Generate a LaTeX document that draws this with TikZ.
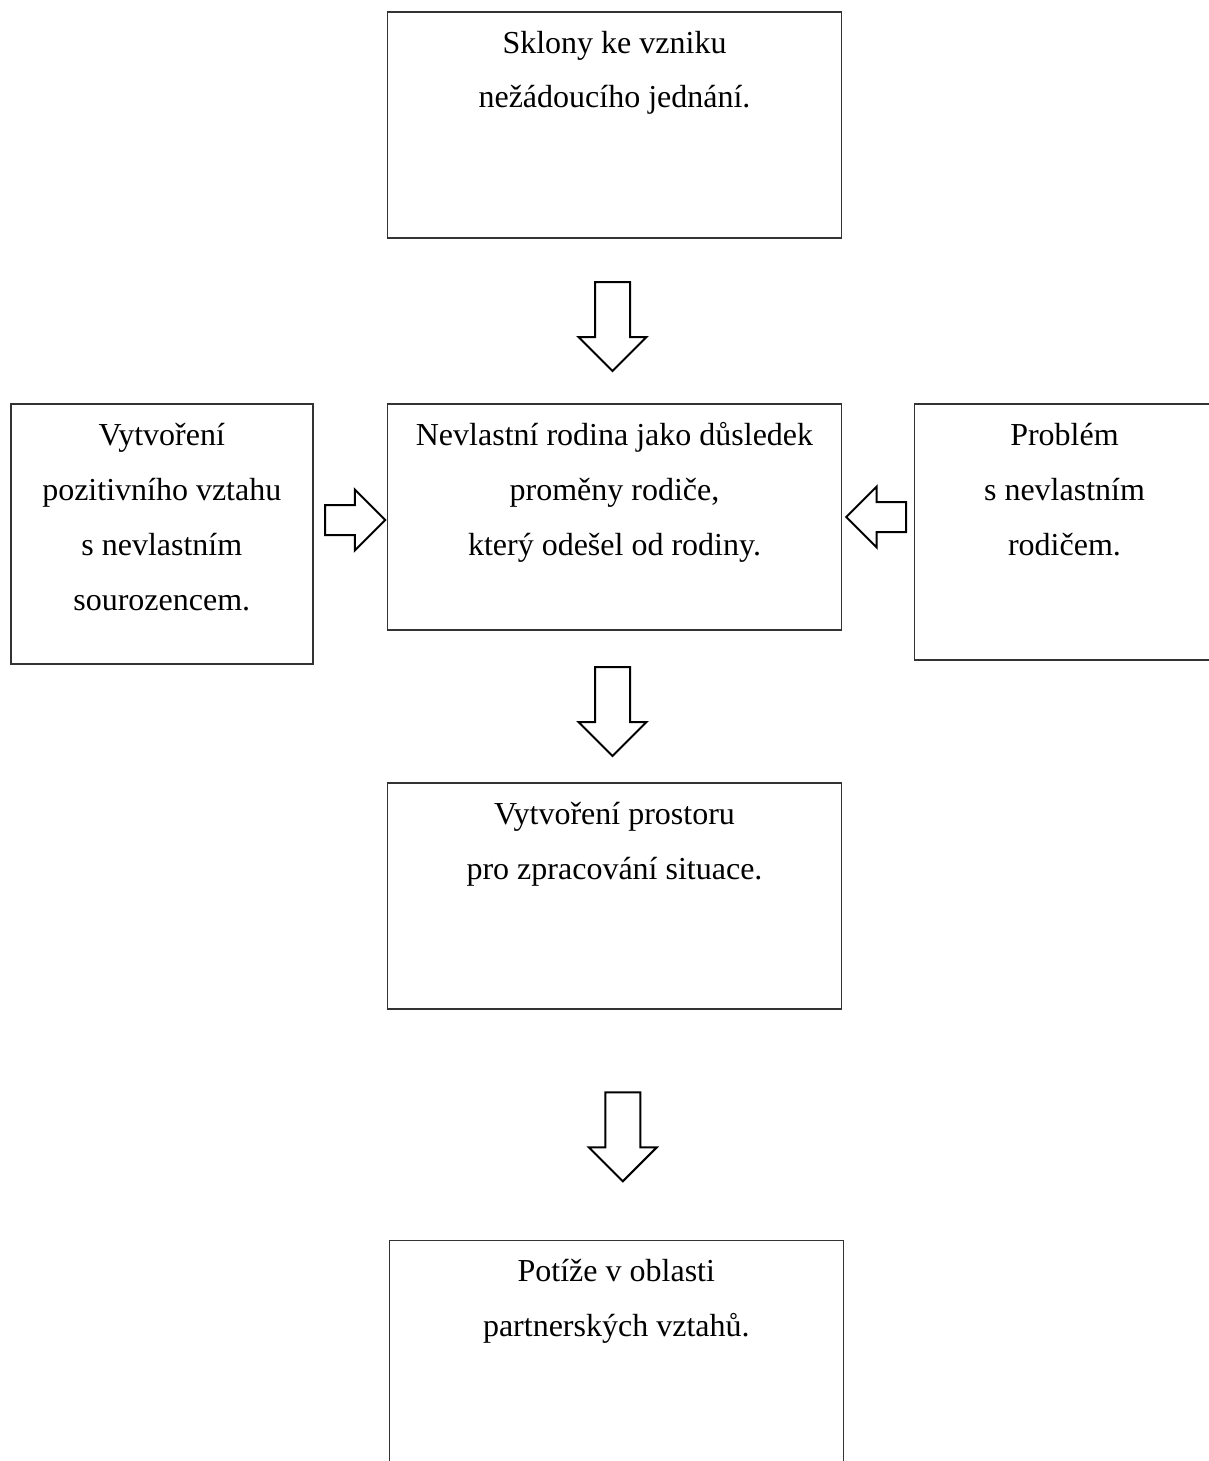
\documentclass[tikz,border=0pt]{standalone}
\usepackage{fontspec}
\setmainfont{Liberation Serif}
\usetikzlibrary{positioning,shapes.arrows}

% box text: width, height, lines (text starts at the top)
\newcommand{\boxtext}[3]{\parbox[c][#2][t]{#1}{\centering\rule{0pt}{20.5pt}#3}}

\begin{document}
\begin{tikzpicture}[
      box_main/.style={
         rectangle,
         draw=black!80,
         line width=0.75pt,
         inner sep=0pt,
         outer sep=0pt,
         font=\fontsize{16pt}{27.5pt}\selectfont},
      arrow_block/.style={
         single arrow,
         draw=black,
         fill=white,
         line width=1pt,
         inner sep=0pt,
         outer sep=0pt,
         single arrow tip angle=90,
         single arrow head indent=0pt},
      arrow_down/.style={
         arrow_block,
         rotate=-90,
         inner ysep=8.25pt,
         single arrow head extend=8.25pt,
         minimum height=44.5pt},
      arrow_side/.style={
         arrow_block,
         inner ysep=7pt,
         single arrow head extend=7.7pt,
         minimum height=30pt}
]
      \useasboundingbox (0,0) rectangle (604.5pt,-730.5pt);

      %centre
      \node[box_main] (nevl) at (307.25pt,-258.5pt)
        {\boxtext{227pt}{113pt}{Nevlastní rodina jako důsledek\\proměny rodiče,\\který odešel od rodiny.}};

      \node[box_main,above=83pt of nevl] (sklony)
        {\boxtext{227pt}{113pt}{Sklony ke vzniku\\nežádoucího jednání.}};
      \node[box_main,left=37.35pt of nevl.north west,anchor=north east] (vztah)
        {\boxtext{151pt}{130pt}{Vytvoření\\pozitivního vztahu\\s nevlastním\\sourozencem.}};
      \node[box_main,right=36.5pt of nevl.north east,anchor=north west] (problem)
        {\boxtext{150pt}{128pt}{Problém\\s nevlastním\\rodičem.}};

      \node[box_main,below=76.5pt of nevl] (prostor)
        {\boxtext{227pt}{113pt}{Vytvoření prostoru\\pro zpracování situace.}};
      \node[box_main,below=115.85pt of prostor,xshift=0.9pt] (potize)
        {\boxtext{227pt}{113pt}{Potíže v oblasti\\partnerských vztahů.}};

    \foreach \n/\src/\dy/\dx in {% name/box above/gap/shift
      a1/sklony/22/-1,
      a2/nevl/18.5/-1,
      a3/prostor/41.65/4.15}
      \node[arrow_down,below right=\dy pt and \dx pt of \src.south,anchor=tail] (\n) {};

      \node[arrow_side,below left=1.5pt and 1.15pt of nevl.west,anchor=tip] (aL) {};
      \node[arrow_side,rotate=180,right=2.35pt of nevl.east,anchor=tip] (aR) {};

\end{tikzpicture}
\end{document}
